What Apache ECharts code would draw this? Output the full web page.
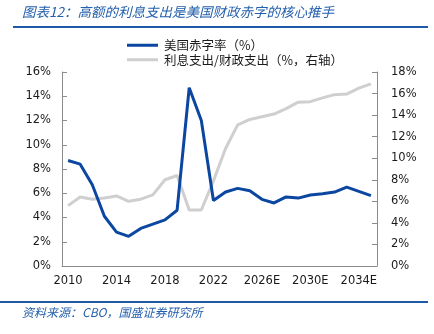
<!DOCTYPE html>
<html>
<head>
<meta charset="utf-8">
<script src="https://cdn.jsdelivr.net/npm/echarts@6/dist/echarts.min.js"></script>
<style>
html,body{margin:0;padding:0;background:#fff;}
#c{width:434px;height:334px;}
</style>
</head>
<body>
<div id="c"></div>
<script>
var years = ['2010','2011','2012','2013','2014','2015','2016','2017','2018','2019','2020','2021','2022','2023','2024','2025E','2026E','2027E','2028E','2029E','2030E','2031E','2032E','2033E','2034E','2035E'];
var deficitRate = [8.7,8.4,6.7,4.1,2.8,2.45,3.1,3.45,3.8,4.6,14.7,12.0,5.4,6.1,6.4,6.2,5.5,5.2,5.7,5.6,5.85,5.95,6.1,6.5,6.15,5.8];
var interestShare = [5.6,6.4,6.2,6.3,6.5,6.0,6.2,6.6,8.0,8.4,5.2,5.2,7.9,10.9,13.1,13.6,13.85,14.1,14.6,15.2,15.25,15.6,15.9,15.95,16.5,16.9];
var leftTicks = {min:0, max:16, interval:2};
var rightTicks = {min:0, max:18, interval:2};
var seriesNames = ['美国赤字率（%）','利息支出/财政支出（%，右轴）'];
var titleText = '图表12：高额的利息支出是美国财政赤字的核心推手';
var sourceText = '资料来源：CBO，国盛证券研究所';

var BLUE = '#0b47a1';
var GRAY = '#cfcfcf';
var AXIS = '#8c8c8c';
var LBL = {fontFamily:'DejaVu Sans', fontSize:11.5, color:'#1a1a1a'};
var CJK = 'Noto Sans CJK SC';

var chart = echarts.init(document.getElementById('c'), null, {renderer:'canvas'});
chart.setOption({
  animation:false,
  backgroundColor:'#fff',
  graphic:[
    {type:'text', left:22, top:5, style:{text:titleText, fill:'#2460ad', font:'italic 13.5px "Noto Sans CJK SC"'}},
    {type:'rect', shape:{x:13, y:26, width:415, height:2}, style:{fill:'#1f5aa8'}},
    {type:'rect', shape:{x:0, y:301, width:428, height:2}, style:{fill:'#1f5aa8'}},
    {type:'text', left:22, top:306, style:{text:sourceText, fill:'#2460ad', font:'italic 12px "Noto Sans CJK SC"'}}
  ],
  legend:{
    orient:'vertical', left:122, top:34,
    itemWidth:31, itemHeight:3, itemGap:2,
    icon:'rect',
    textStyle:{fontFamily:CJK, fontSize:12.5, color:'#1a1a1a', padding:[0,0,0,1]},
    data:seriesNames
  },
  grid:{left:62, right:57, top:72, bottom:68, containLabel:false},
  xAxis:{
    type:'category', data:years, boundaryGap:true,
    axisLine:{lineStyle:{color:AXIS, width:1}},
    axisTick:{inside:true, interval:0, length:5, lineStyle:{color:AXIS}},
    axisLabel:Object.assign({interval:3, margin:9}, LBL),
    splitLine:{show:false}
  },
  yAxis:[
    {type:'value', min:leftTicks.min, max:leftTicks.max, interval:leftTicks.interval, position:'left',
     axisLine:{show:true, lineStyle:{color:AXIS}},
     axisTick:{show:true, inside:true, length:5, lineStyle:{color:AXIS}},
     axisLabel:Object.assign({formatter:'{value}%', margin:11}, LBL),
     splitLine:{show:false}},
    {type:'value', min:rightTicks.min, max:rightTicks.max, interval:rightTicks.interval, position:'right',
     axisLine:{show:true, lineStyle:{color:AXIS}},
     axisTick:{show:true, inside:true, length:5, lineStyle:{color:AXIS}},
     axisLabel:Object.assign({formatter:'{value}%', margin:14}, LBL),
     splitLine:{show:false}}
  ],
  series:[
    {name:seriesNames[0], type:'line', yAxisIndex:0, data:deficitRate, symbol:'none', z:3,
     lineStyle:{color:BLUE, width:3}, itemStyle:{color:BLUE}},
    {name:seriesNames[1], type:'line', yAxisIndex:1, data:interestShare, symbol:'none', z:2,
     lineStyle:{color:GRAY, width:3}, itemStyle:{color:GRAY}}
  ]
});
</script>
</body>
</html>
